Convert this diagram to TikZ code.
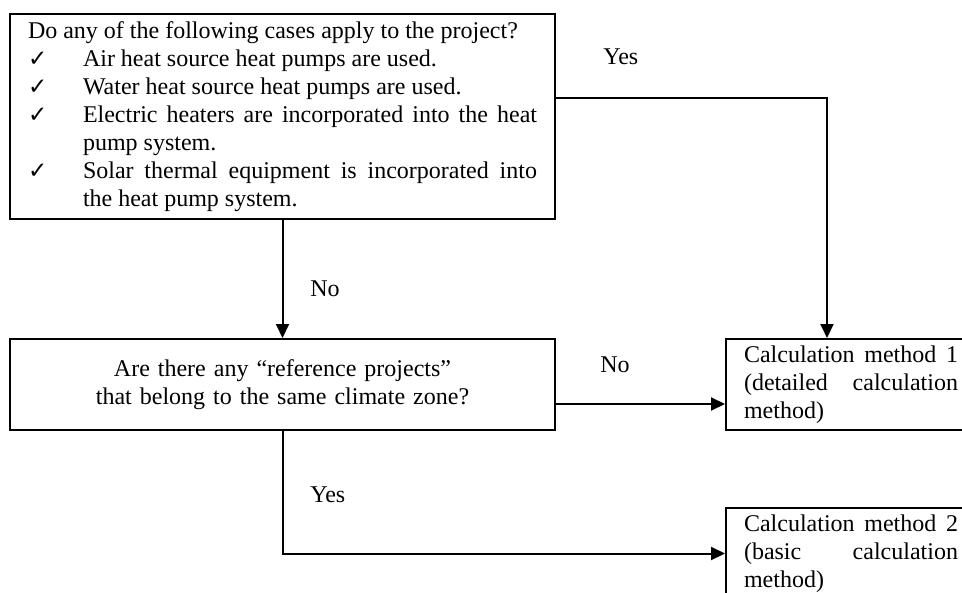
\documentclass[tikz,border=0pt]{standalone}
\usepackage{fontspec}
\setmainfont{Liberation Serif}
\newfontfamily\chkfont{DejaVu Sans}
\usetikzlibrary{arrows.meta}
\newcommand\chkmark{{\chkfont\fontsize{11.5}{11.5}\selectfont ✓}}
\newcommand\chkitem[1]{\par\noindent\hangindent=27.5pt\hangafter=1\makebox[27.5pt][l]{\chkmark}#1\par}
\hyphenpenalty=10000
\exhyphenpenalty=10000
\setlength\parindent{0pt}

\begin{document}
\begin{tikzpicture}[x=0.5pt,y=-0.5pt,
    box/.style={draw,line width=1pt,anchor=north west,inner xsep=9pt,inner ysep=0pt,
      font=\fontsize{12}{14}\selectfont},
    arr/.style={draw,line width=1pt,-{Triangle[length=7pt,width=6.5pt]}},
    lbl/.style={anchor=base west,inner sep=0pt,font=\fontsize{12}{14}\selectfont}]
  \useasboundingbox (0,0) rectangle (962,593);
  \node[box,text width=254.5pt,minimum height=102.5pt,align=justify] (q1) at (9,13)
    {Do any of the following cases apply to the project?
     \chkitem{Air heat source heat pumps are used.}
     \chkitem{Water heat source heat pumps are used.}
     \chkitem{Electric heaters are incorporated into the heat\linebreak pump system.}
     \chkitem{Solar thermal equipment is incorporated into\linebreak the heat pump system.}};
  \node[box,text width=254.5pt,minimum height=45.5pt,align=center] (q2) at (9,338)
    {Are there any “reference projects”\\that belong to the same climate zone?};
  \node[box,text width=107pt,minimum height=45.5pt,align=justify] (c1) at (725,338)
    {Calculation method 1\linebreak (detailed calculation\linebreak method)};
  \node[box,text width=107pt,minimum height=45.5pt,align=justify] (c2) at (725,507)
    {Calculation method 2\linebreak (basic calculation\linebreak method)};

  \draw[arr] (q1.south) -- (q2.north);
  \draw[arr] ([yshift=9.25pt]q1.east) -| ([xshift=-12pt]c1.north);
  \draw[arr] ([yshift=-9.75pt]q2.east) -- ([yshift=-9.75pt]c1.west);
  \draw[arr] (q2.south) |- (c2.west);

  \node[lbl] (yes1) at (603,65) {Yes};
  \node[lbl] (no1) at (310,296) {No};
  \node[lbl] (no2) at (600,372) {No};
  \node[lbl] (yes2) at (310,502) {Yes};
\end{tikzpicture}
\end{document}
